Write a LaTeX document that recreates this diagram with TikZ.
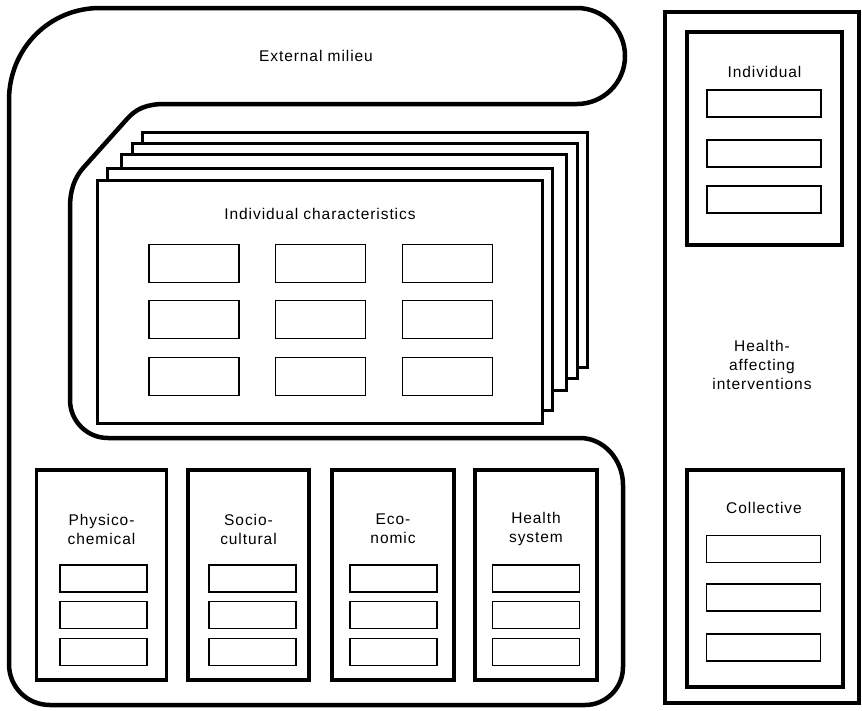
\documentclass[tikz,border=0pt]{standalone}
\usepackage{fontspec}
\setmainfont{Liberation Sans}[LetterSpace=6]
\begin{document}
\begin{tikzpicture}[x=1pt,y=-1pt,
  milieu/.style={draw, line width=4.5pt, line join=round},
  frame/.style={draw, line width=4pt, inner sep=0pt},
  panel/.style={draw, line width=3.2pt, fill=white, inner sep=0pt},
  sheet/.style={draw, line width=3pt, fill=white, minimum width=445pt, inner sep=0pt},
  cell/.style={draw, line width=1.4pt, inner sep=0pt},
  gridcell/.style={cell, minimum width=90pt, minimum height=38pt},
  factorcell/.style={cell, minimum width=87pt, minimum height=27pt},
  actcell/.style={cell, minimum width=114pt, minimum height=27pt},
  label/.style={font=\fontsize{15.5}{19}\selectfont, align=center, inner sep=0pt}
]
\useasboundingbox (0,0) rectangle (862,710);

% External milieu: a band round the top, left and bottom
\path[milieu] (577,104) -- (165,104)
  .. controls (146,104) and (136,109) .. (127,119)
  -- (84,167)
  .. controls (75,177) and (70,189) .. (70,208)
  -- (70,400)
  .. controls (70,421) and (87,438) .. (108,438)
  -- (580,438)
  .. controls (604,438) and (623,460) .. (623,485)
  -- (623,667)
  .. controls (623,688) and (606,705) .. (585,705)
  -- (50,705)
  .. controls (27,705) and (9,687) .. (9,664)
  -- (9,100)
  .. controls (9,49) and (49,8) .. (100,8)
  -- (577,8)
  .. controls (603,8) and (625,29) .. (625,56)
  .. controls (625,83) and (603,104) .. (577,104) -- cycle;
\node[label] (milieu) at (316,56) {External milieu};

% Stack of individual-characteristics sheets, back to front
\node[sheet, minimum height=235pt] (sheetA) at (365,249.5) {};
\node[sheet, minimum height=235pt] (sheetB) at (354.5,260.5) {};
\node[sheet, minimum height=236pt] (sheetC) at (343.5,272) {};
\node[sheet, minimum height=242pt] (sheetD) at (330,289) {};
\node[sheet, minimum height=243pt] (sheetE) at (319.5,301.5) {};
\node[label] (chartitle) at (320,214) {Individual characteristics};
\foreach \cx [count=\i] in {194,320.5,447.5}
  \foreach \cy [count=\j] in {263.5,319.5,376.5}
    \node[gridcell] (char-\j-\i) at (\cx,\cy) {};

% Environmental factor panels
\node[panel, minimum width=130pt, minimum height=210pt] (phys) at (101.5,575) {};
\node[panel, minimum width=121pt, minimum height=210pt] (socio) at (248.5,575) {};
\node[panel, minimum width=122pt, minimum height=210pt] (econ) at (393,575) {};
\node[panel, minimum width=122pt, minimum height=210pt] (hsys) at (536,575) {};
\node[label] (physlab) at (101.5,529) {Physico-\\chemical};
\node[label] (sociolab) at (248.5,529) {Socio-\\cultural};
\node[label] (econlab) at (393,529) {Eco-\\nomic};
\node[label] (hsyslab) at (536,529) {Health\\system};
\foreach \cx [count=\i] in {103.5,252.5,393.5,536}
  \foreach \cy [count=\j] in {578.5,615,652}
    \node[factorcell] (factor-\i-\j) at (\cx,\cy) {};

% Health-affecting interventions
\node[frame, minimum width=194pt, minimum height=691pt] (interventions) at (762,357.5) {};
\node[label] (intlab) at (762,365) {Health-\\affecting\\interventions};
\node[panel, minimum width=155pt, minimum height=213pt] (indiv) at (764.5,138.5) {};
\node[label] (indivlab) at (764.5,72) {Individual};
\foreach \cy [count=\j] in {103.5,153.5,199.5}
  \node[actcell] (indiv-\j) at (764,\cy) {};
\node[panel, minimum width=156pt, minimum height=217pt] (coll) at (765,578.5) {};
\node[label] (colllab) at (764,508) {Collective};
\foreach \cy [count=\j] in {549,597.5,647.5}
  \node[actcell] (coll-\j) at (763.5,\cy) {};
\end{tikzpicture}
\end{document}
